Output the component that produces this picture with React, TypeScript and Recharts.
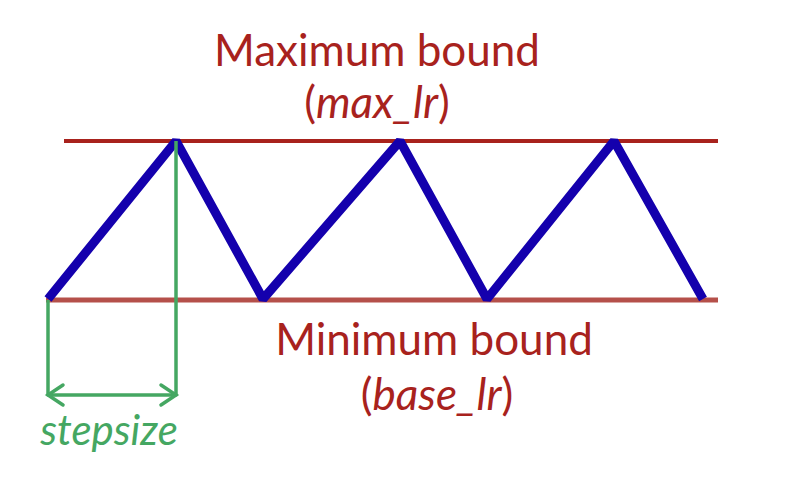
import { ComposedChart, Line, XAxis, YAxis, ReferenceLine, Customized } from "recharts";

// triangular cyclical learning rate (x: iterations, y: lr level)
const iterations = [48, 176, 263, 400, 487, 614, 703];
const learningRate = [181, 339, 181, 339, 181, 339, 181];

const maxLr = 339;
const baseLr = 180;
const maxBoundRange = [64, 718];
const baseBoundRange = [46, 718];

const stepStart = 48;
const stepEnd = 176;
const arrowLevel = 85;

const RED = "#a8221d";
const RED_LIGHT = "#b5504a";
const BLUE = "#1400ad";
const GREEN = "#45a762";
const FONT = "Lato, 'Open Sans', sans-serif";

const data = iterations.map((it, i) => ({ it, lr: learningRate[i] }));

function DoubleArrow(props: any) {
  const { x1, y1, x2, y2 } = props;
  const ax = 15;
  const ay = 10;
  return (
    <g stroke={GREEN} strokeWidth={3.5} fill="none" strokeLinecap="round">
      <line x1={x1} y1={y1} x2={x2} y2={y2} />
      <polyline points={`${x1 + ax},${y1 - ay} ${x1},${y1} ${x1 + ax},${y1 + ay}`} />
      <polyline points={`${x2 - ax},${y2 - ay} ${x2},${y2} ${x2 - ax},${y2 + ay}`} />
    </g>
  );
}

function Annotations() {
  return (
    <g fontFamily={FONT} textAnchor="middle">
      <text x={377} y={66} fontSize={44} fill={RED}>Maximum bound</text>
      <text x={377} y={118} fontSize={44} fill={RED}>
        (<tspan fontStyle="italic">max_lr</tspan>)
      </text>
      <text x={434} y={355} fontSize={44} fill={RED}>Minimum bound</text>
      <text x={437} y={410} fontSize={44} fill={RED}>
        (<tspan fontStyle="italic">base_lr</tspan>)
      </text>
      <text x={109} y={445} fontSize={42} fill={GREEN} fontStyle="italic">stepsize</text>
    </g>
  );
}

export default function App() {
  return (
    <div style={{ position: "absolute", left: 0, top: 0, width: 794, height: 480, background: "#fff" }}>
      <ComposedChart width={794} height={480} data={data} margin={{ top: 0, right: 0, bottom: 0, left: 0 }}>
        <XAxis dataKey="it" type="number" domain={[0, 794]} hide />
        <YAxis type="number" domain={[0, 480]} hide />
        <ReferenceLine
          segment={[{ x: maxBoundRange[0], y: maxLr }, { x: maxBoundRange[1], y: maxLr }]}
          stroke={RED}
          strokeWidth={4}
        />
        <ReferenceLine
          segment={[{ x: baseBoundRange[0], y: baseLr }, { x: baseBoundRange[1], y: baseLr }]}
          stroke={RED_LIGHT}
          strokeWidth={5}
        />
        <Line
          dataKey="lr"
          type="linear"
          stroke={BLUE}
          strokeWidth={9}
          strokeLinejoin="bevel"
          dot={false}
          activeDot={false}
          isAnimationActive={false}
        />
        <ReferenceLine
          segment={[{ x: stepStart, y: baseLr }, { x: stepStart, y: arrowLevel }]}
          stroke={GREEN}
          strokeWidth={3.5}
        />
        <ReferenceLine
          segment={[{ x: stepEnd, y: maxLr }, { x: stepEnd, y: arrowLevel }]}
          stroke={GREEN}
          strokeWidth={3.5}
        />
        <ReferenceLine
          segment={[{ x: stepStart, y: arrowLevel }, { x: stepEnd, y: arrowLevel }]}
          shape={DoubleArrow}
        />
        <Customized component={Annotations} />
      </ComposedChart>
    </div>
  );
}
